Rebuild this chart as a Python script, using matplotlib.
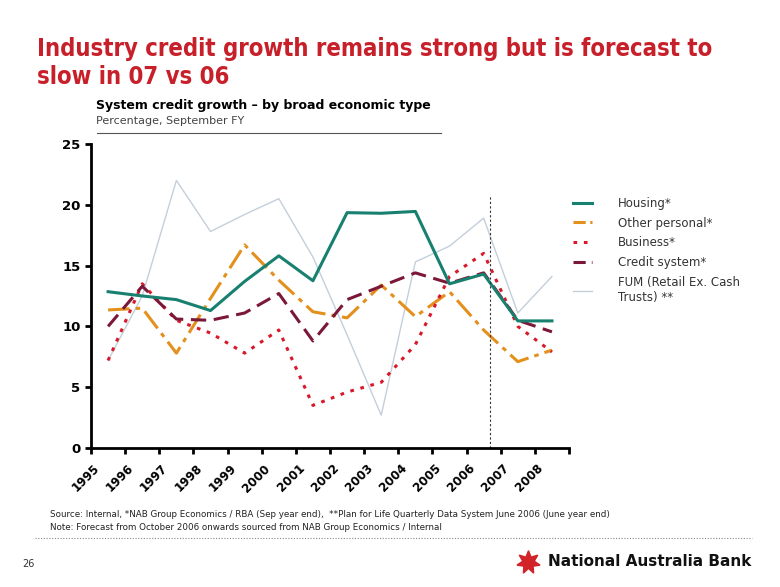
import numpy as np
import matplotlib
matplotlib.use("Agg")
from matplotlib import pyplot as plt
from matplotlib.lines import Line2D
from matplotlib.transforms import ScaledTranslation


# ==========================================================
# Dati
# ==========================================================
years = ["1995", "1996", "1997", "1998", "1999", "2000", "2001",
         "2002", "2003", "2004", "2005", "2006", "2007", "2008"]

housing = [12.85, 12.5, 12.2, 11.3, 13.7, 15.8, 13.75,
           19.35, 19.3, 19.45, 13.5, 14.3, 10.45, 10.45]
other_personal = [11.35, 11.5, 7.8, 12.3, 16.7, 13.8, 11.2,
                  10.7, 13.4, 10.8, 12.85, 9.7, 7.1, 8.05]
business = [7.2, 13.5, 10.5, 9.45, 7.8, 9.7, 3.5,
            4.6, 5.4, 8.5, 14.1, 16.0, 10.0, 7.9]
credit_system = [10.0, 13.3, 10.6, 10.5, 11.1, 12.7, 8.8,
                 12.2, 13.3, 14.4, 13.55, 14.4, 10.5, 9.55]
fum = [7.2, 12.5, 22.0, 17.8, 19.2, 20.5, 15.7,
       9.3, 2.7, 15.3, 16.6, 18.9, 11.1, 14.1]

legend_labels = ["Housing*", "Other personal*", "Business*",
                 "Credit system*", "FUM (Retail Ex. Cash\nTrusts) **"]

forecast_x = 11.2   # inizio previsione (ottobre 2006)


# ==========================================================
# Stili
# ==========================================================
RED = "#c8202a"
c_housing = "#17806f"
c_other = "#e3901c"
c_business = "#d7192a"
c_credit = "#7b1838"
c_fum = "#c3cfdb"

fig = plt.figure(figsize=(7.8, 5.87), dpi=100)

# Titolo
fig.text(0.047, 0.905, "Industry credit growth remains strong but is forecast to",
         color=RED, fontsize=17.1, fontweight="bold", stretch="condensed")
fig.text(0.047, 0.857, "slow in 07 vs 06",
         color=RED, fontsize=17.1, fontweight="bold", stretch="condensed")

# Sottotitolo
fig.text(0.123, 0.815, "System credit growth \u2013 by broad economic type",
         fontsize=9.0, fontweight="bold", color="black")
fig.text(0.123, 0.789, "Percentage, September FY", fontsize=8, color="#444444")
fig.add_artist(Line2D([0.124, 0.565], [0.773, 0.773], color="#555555", lw=0.8))

# ==========================================================
# Grafico
# ==========================================================
ax = fig.add_axes([0.1167, 0.2368, 0.6128, 0.518])
x = np.arange(len(years))

ax.plot(x, fum, color=c_fum, lw=1.0)
ax.plot(x, other_personal, color=c_other, lw=2.2, dashes=(7, 2, 1.5, 2))
ax.plot(x, business, color=c_business, lw=2.2, dashes=(1.2, 2.2))
ax.plot(x, credit_system, color=c_credit, lw=2.2, dashes=(5, 2.5))
ax.plot(x, housing, color=c_housing, lw=2.2)

ax.axvline(forecast_x, ymin=0, ymax=0.83, color="#333333", lw=0.8, ls=(0, (2, 2)))

ax.set_xlim(-0.5, len(years) - 0.5)
ax.set_ylim(0, 25)
ax.set_yticks([0, 5, 10, 15, 20, 25])

ax.set_xticks(np.arange(-0.5, len(years), 1.0))
ax.set_xticklabels([])
ax.set_xticks(x, minor=True)
ax.set_xticklabels(years, minor=True, rotation=45, ha="right",
                   rotation_mode="anchor", fontsize=8.6, fontweight="bold")
ax.tick_params(axis="x", which="minor", length=0, pad=10)
ax.tick_params(axis="both", which="major", length=4, width=2, direction="out")
ax.tick_params(axis="y", labelsize=9.5)
for lab in ax.get_yticklabels():
    lab.set_fontweight("bold")
shift = ScaledTranslation(-15 / 100, 0, fig.dpi_scale_trans)
for lab in ax.get_xticklabels(minor=True):
    lab.set_transform(lab.get_transform() + shift)

for s in ["top", "right"]:
    ax.spines[s].set_visible(False)
for s in ["left", "bottom"]:
    ax.spines[s].set_linewidth(2)

# Legenda manuale
handles = [
    Line2D([], [], color=c_housing, lw=2.2),
    Line2D([], [], color=c_other, lw=2.2, dashes=(4, 1.5, 1, 1.5)),
    Line2D([], [], color=c_business, lw=2.2, dashes=(1.2, 2.2)),
    Line2D([], [], color=c_credit, lw=2.2, dashes=(4, 2)),
    Line2D([], [], color=c_fum, lw=1.0),
]
leg = fig.legend(handles, legend_labels, loc="upper left",
                 bbox_to_anchor=(0.721, 0.683), frameon=False, fontsize=8.5,
                 handlelength=1.6, handletextpad=2.2, labelspacing=0.58,
                 labelcolor="#333333")

# Note
fig.text(0.064, 0.123,
         "Source: Internal, *NAB Group Economics / RBA (Sep year end),  "
         "**Plan for Life Quarterly Data System June 2006 (June year end)",
         fontsize=6.3, color="#222222", va="center")
fig.text(0.064, 0.102,
         "Note: Forecast from October 2006 onwards sourced from NAB Group Economics / Internal",
         fontsize=6.3, color="#222222", va="center")
fig.add_artist(Line2D([0.045, 0.964], [0.083, 0.083], color="#888888", lw=0.8,
                      ls=(0, (1, 1.5))))

fig.text(0.028, 0.039, "26", fontsize=7, color="#333333", va="center")

# Logo
fig.add_artist(Line2D([0.677], [0.043], marker=(7, 1, 0), markersize=17,
                      color="#d2232a", lw=0))
fig.text(0.702, 0.043, "National Australia Bank", fontsize=11,
         fontweight="bold", color="#111111", va="center")

fig.savefig("out.png", dpi=100)
